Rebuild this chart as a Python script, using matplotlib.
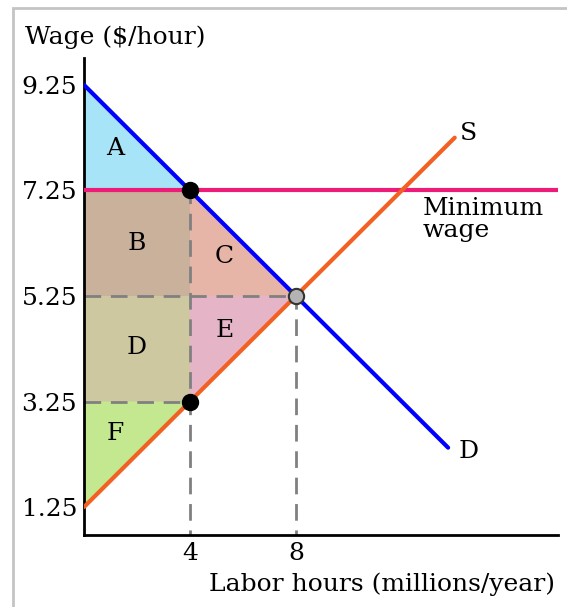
import matplotlib
matplotlib.use("Agg")
import matplotlib.pyplot as plt
from matplotlib.patches import Polygon, Rectangle

plt.rcParams['font.family'] = 'DejaVu Serif'

# wage axis ticks and quantity axis ticks
wage_ticks = [1.25, 3.25, 5.25, 7.25, 9.25]
qty_ticks = [4, 8]

# demand and supply curves (quantity, wage)
demand_q = [0, 13.75]
demand_w = [9.25, 2.375]
supply_q = [0, 14]
supply_w = [1.25, 8.25]
min_wage = 7.25

# key points
q_min, w_min_supply = 4, 3.25
q_eq, w_eq = 8, 5.25

# surplus areas
areas = {
    'A': ([(0, 9.25), (q_min, min_wage), (0, min_wage)], '#a8e4f8', (1.17, 8.05)),
    'B': ([(0, min_wage), (q_min, min_wage), (q_min, w_eq), (0, w_eq)], '#c9b19b', (2.0, 6.25)),
    'C': ([(q_min, min_wage), (q_eq, w_eq), (q_min, w_eq)], '#e6b5a7', (5.3, 6.0)),
    'D': ([(0, w_eq), (q_min, w_eq), (q_min, w_min_supply), (0, w_min_supply)], '#cdc8a0', (2.0, 4.27)),
    'E': ([(q_min, w_eq), (q_eq, w_eq), (q_min, w_min_supply)], '#e6b4c7', (5.3, 4.6)),
    'F': ([(0, w_min_supply), (q_min, w_min_supply), (0, 1.25)], '#c3e890', (1.17, 2.65)),
}

FS = 18

fig = plt.figure(figsize=(5.67, 6.07), dpi=100)
ax = fig.add_axes([84/567, 72/607, 474/567, 477/607])

for name, (pts, col, lab) in areas.items():
    ax.add_patch(Polygon(pts, closed=True, facecolor=col, edgecolor='none', zorder=1))
    ax.text(lab[0], lab[1], name, fontsize=FS, ha='center', va='center', zorder=5)

dash = dict(color='#808080', linestyle=(0, (6, 3.5)), linewidth=2, zorder=2)
ax.plot([q_min, q_min], [0, min_wage], **dash)
ax.plot([q_eq, q_eq], [0, w_eq], **dash)
ax.plot([0, q_eq], [w_eq, w_eq], **dash)
ax.plot([0, q_min], [w_min_supply, w_min_supply], **dash)

ax.plot([0, 17.9], [min_wage, min_wage], color='#ec1c78', linewidth=3, zorder=3)
ax.plot(demand_q, demand_w, color='#0000ff', linewidth=3, zorder=3, solid_capstyle='round')
ax.plot(supply_q, supply_w, color='#f26122', linewidth=3, zorder=3, solid_capstyle='round')

ax.plot([q_min, q_min], [min_wage, w_min_supply], 'o', color='black', markersize=11.5, zorder=6)
ax.plot([q_eq], [w_eq], 'o', markerfacecolor='#b4b4b4', markeredgecolor='#333333',
        markeredgewidth=1.5, markersize=11, zorder=6)

ax.text(14.2, 8.32, 'S', fontsize=FS, ha='left', va='center')
ax.text(14.15, 2.31, 'D', fontsize=FS, ha='left', va='center')
ax.text(12.8, 7.12, 'Minimum\nwage', fontsize=FS, ha='left', va='top', linespacing=0.9)

ax.set_xlim(0, 17.9)
ax.set_ylim(0.72, 9.76)
ax.set_xticks(qty_ticks)
ax.set_yticks(wage_ticks)
ax.set_xticklabels([str(q) for q in qty_ticks], fontsize=FS)
ax.set_yticklabels(['%.2f' % w for w in wage_ticks], fontsize=FS)
ax.tick_params(length=0, pad=5)
for s in ['top', 'right']:
    ax.spines[s].set_visible(False)
for s in ['left', 'bottom']:
    ax.spines[s].set_linewidth(2)

fig.text(25/567, 1 - 37/607, 'Wage ($/hour)', fontsize=FS, ha='left', va='center')
fig.text(555/567, 1 - 584/607, 'Labor hours (millions/year)', fontsize=FS, ha='right', va='center')

fig.add_artist(Rectangle((13/567, -0.1), 1.2, 1.1 - 8/607, transform=fig.transFigure,
                         fill=False, edgecolor='#c4c4c4', linewidth=2))

fig.savefig('out.png', dpi=100)
